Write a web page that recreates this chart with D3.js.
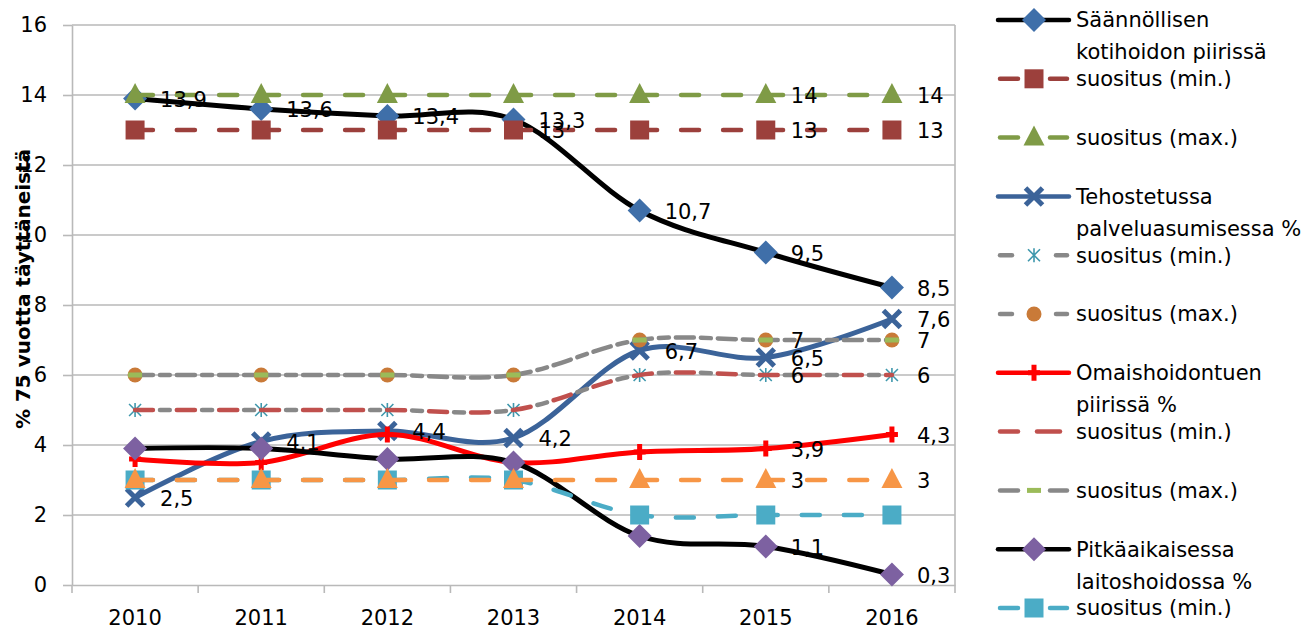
<!DOCTYPE html>
<html>
<head>
<meta charset="utf-8">
<script src="https://cdn.jsdelivr.net/npm/d3@7"></script>
<style>
  body { margin: 0; background: #fff; }
  svg { display: block; font-family: "DejaVu Sans", sans-serif; }
</style>
</head>
<body>
<svg id="chart" width="1314" height="631"></svg>
<script>
// data
const years = ["2010", "2011", "2012", "2013", "2014", "2015", "2016"];
const kotihoito      = [13.9, 13.6, 13.4, 13.3, 10.7, 9.5, 8.5];
const kotihoitoMin   = [13, 13, 13, 13, 13, 13, 13];
const kotihoitoMax   = [14, 14, 14, 14, 14, 14, 14];
const tehostettu     = [2.5, 4.1, 4.4, 4.2, 6.7, 6.5, 7.6];
const tehostettuMin  = [5, 5, 5, 5, 6, 6, 6];
const tehostettuMax  = [6, 6, 6, 6, 7, 7, 7];
const omaishoito     = [3.6, 3.5, 4.3, 3.5, 3.8, 3.9, 4.3];
const omaishoitoMin  = [5, 5, 5, 5, 6, 6, 6];
const omaishoitoMax  = [6, 6, 6, 6, 7, 7, 7];
const laitoshoito    = [3.9, 3.9, 3.6, 3.5, 1.4, 1.1, 0.3];
const laitoshoitoMin = [3, 3, 3, 3, 2, 2, 2];
const laitoshoitoMax = [3, 3, 3, 3, 3, 3, 3];
const yTicks = [0, 2, 4, 6, 8, 10, 12, 14, 16];
const yTitle = "% 75 vuotta täyttäneistä";

const series = [
  {lines: ["Säännöllisen", "kotihoidon piirissä"], values: kotihoito, color: "#000", dash: null, marker: "diamond", mcolor: "#3f6fa9", labels: [0,1,2,3,4,5,6]},
  {lines: ["suositus (min.)"], values: kotihoitoMin, color: "#9c403c", dash: "long", marker: "square", mcolor: "#9c403c", labels: [3,5,6]},
  {lines: ["suositus (max.)"], values: kotihoitoMax, color: "#7f9b46", dash: "long", marker: "triangle", mcolor: "#7f9b46", labels: [5,6]},
  {lines: ["Tehostetussa", "palveluasumisessa %"], values: tehostettu, color: "#3b6399", dash: null, marker: "x", mcolor: "#3b6399", labels: [0,1,2,3,4,5,6]},
  {lines: ["suositus (min.)"], values: tehostettuMin, color: "#888", dash: "short", marker: "asterisk", mcolor: "#3f98ad", labels: [5,6]},
  {lines: ["suositus (max.)"], values: tehostettuMax, color: "#888", dash: "short", marker: "circle", mcolor: "#c97a38", labels: [5,6]},
  {lines: ["Omaishoidontuen", "piirissä %"], values: omaishoito, color: "#ff0000", dash: null, marker: "plus", mcolor: "#ff0000", labels: [5,6]},
  {lines: ["suositus (min.)"], values: omaishoitoMin, color: "#c0504d", dash: "long", marker: null, mcolor: null, labels: []},
  {lines: ["suositus (max.)"], values: omaishoitoMax, color: "#888", dash: "long", marker: "dash", mcolor: "#9bbb59", labels: []},
  {lines: ["Pitkäaikaisessa", "laitoshoidossa %"], values: laitoshoito, color: "#000", dash: null, marker: "diamond", mcolor: "#7d61a1", labels: [5,6]},
  {lines: ["suositus (min.)"], values: laitoshoitoMin, color: "#4bacc6", dash: "long", marker: "square", mcolor: "#4bacc6", labels: []},
  {lines: ["suositus (max.)"], values: laitoshoitoMax, color: "#f79646", dash: "long", marker: "triangle", mcolor: "#f79646", labels: [5,6]}
];

const svg = d3.select("#chart");
const fontSize = 21;

const x = d3.scaleBand().domain(years).range([72, 955]);
const y = d3.scaleLinear().domain([0, 16]).range([585, 25]);
const cx = d => x(d) + x.bandwidth() / 2;

// gridlines
svg.append("g").selectAll("line")
  .data(yTicks.filter(d => d > 0))
  .join("line")
    .attr("x1", 72).attr("x2", 955)
    .attr("y1", d => y(d)).attr("y2", d => y(d))
    .attr("stroke", "#b9b9b9").attr("stroke-width", 1.6);

// plot border on the right
svg.append("line")
  .attr("x1", 955).attr("x2", 955).attr("y1", y(16)).attr("y2", y(0))
  .attr("stroke", "#b9b9b9").attr("stroke-width", 1.6);

// y axis
const yAxis = svg.append("g")
  .attr("transform", "translate(72,0)")
  .call(d3.axisLeft(y).tickValues(yTicks).tickSize(9).tickSizeOuter(0).tickPadding(16));
yAxis.select(".domain").attr("stroke", "#b9b9b9").attr("stroke-width", 1.6);
yAxis.selectAll(".tick line").attr("stroke", "#b9b9b9").attr("stroke-width", 1.6);
yAxis.selectAll("text").attr("font-size", fontSize).attr("font-family", "DejaVu Sans").attr("fill", "#000");

// x axis: labels at band centres, ticks at band edges
const xAxis = svg.append("g")
  .attr("transform", "translate(0,585)")
  .call(d3.axisBottom(x).tickSize(0).tickPadding(25));
xAxis.select(".domain").attr("stroke", "#b9b9b9").attr("stroke-width", 1.6);
xAxis.selectAll("text").attr("font-size", fontSize).attr("font-family", "DejaVu Sans").attr("fill", "#000");
xAxis.selectAll(".edge")
  .data(d3.range(years.length + 1))
  .join("line")
    .attr("class", "edge")
    .attr("x1", i => x.range()[0] + i * x.step())
    .attr("x2", i => x.range()[0] + i * x.step())
    .attr("y1", 0).attr("y2", 8)
    .attr("stroke", "#b9b9b9").attr("stroke-width", 1.6);

// y axis title
svg.append("text")
  .attr("transform", "translate(23,289) rotate(-90)")
  .attr("text-anchor", "middle")
  .attr("dy", "0.35em")
  .attr("font-size", 20)
  .attr("font-weight", "bold")
  .text(yTitle);

// markers
function markerPath(type) {
  const p = d3.path();
  if (type === "diamond") { p.moveTo(0,-12); p.lineTo(12,0); p.lineTo(0,12); p.lineTo(-12,0); p.closePath(); }
  else if (type === "square") { p.rect(-9.5,-9.5,19,19); }
  else if (type === "triangle") { p.moveTo(0,-12); p.lineTo(10.5,8); p.lineTo(-10.5,8); p.closePath(); }
  else if (type === "x") { p.moveTo(-8.5,-8.5); p.lineTo(8.5,8.5); p.moveTo(-8.5,8.5); p.lineTo(8.5,-8.5); }
  else if (type === "plus") { p.moveTo(0,-8); p.lineTo(0,8); p.moveTo(-6,0); p.lineTo(6,0); }
  else if (type === "asterisk") { p.moveTo(0,-7); p.lineTo(0,7); p.moveTo(-6,-6); p.lineTo(6,6); p.moveTo(-6,6); p.lineTo(6,-6); }
  else if (type === "circle") { p.arc(0,0,7.5,0,2*Math.PI); }
  else if (type === "dash") { p.rect(-7,-2.5,14,5); }
  return p.toString();
}
function styleMarker(sel, s) {
  const stroked = s.marker === "x" || s.marker === "plus" || s.marker === "asterisk";
  sel.attr("d", markerPath(s.marker))
    .attr("fill", stroked ? "none" : s.mcolor)
    .attr("stroke", s.mcolor)
    .attr("stroke-width", s.marker === "asterisk" ? 1.6 : stroked ? 5 : 0);
}
function styleLine(sel, s) {
  sel.attr("fill", "none")
    .attr("stroke", s.color)
    .attr("stroke-width", s.dash ? 4.5 : 5)
    .attr("stroke-linecap", s.dash ? "round" : "butt")
    .attr("stroke-dasharray", s.dash === "long" ? "18,24" : s.dash === "short" ? "10,32" : null)
    .attr("stroke-dashoffset", s.dash === "short" ? 17 : 0);
}

const line = d3.line()
  .x((d, i) => cx(years[i]))
  .y(d => y(d))
  .curve(d3.curveCardinal.tension(0));

series.forEach(s => {
  const g = svg.append("g");
  g.append("path").datum(s.values).attr("d", line).call(styleLine, s);
  if (s.marker) {
    g.selectAll(".m")
      .data(s.values)
      .join("path")
        .attr("class", "m")
        .attr("transform", (d, i) => `translate(${cx(years[i])},${y(d)})`)
        .call(styleMarker, s);
  }
});

// data labels
const fmt = v => String(v).replace(".", ",");
series.forEach(s => {
  svg.append("g").selectAll("text")
    .data(s.labels)
    .join("text")
      .attr("x", i => cx(years[i]) + 25)
      .attr("y", i => y(s.values[i]) + 1)
      .attr("dy", "0.35em")
      .attr("font-size", fontSize)
      .attr("fill", "#000")
      .text(i => fmt(s.values[i]));
});

// legend (the last entry falls below the picture, as in the original)
const legend = svg.append("g");
series.forEach((s, k) => {
  const ly = 20 + k * 58.8;
  if (ly > 620) return;
  const g = legend.append("g").attr("transform", `translate(0,${ly})`);
  let segs;
  if (!s.dash) segs = [[998, 1069]];
  else if (s.dash === "short") segs = [[1000, 1012], [1056, 1067]];
  else if (!s.marker) segs = [[1000, 1018], [1037, 1060]];
  else segs = [[1000, 1018], [1050, 1067]];
  segs.forEach(([a, b]) => {
    g.append("line")
      .attr("x1", a).attr("x2", b).attr("y1", 0).attr("y2", 0)
      .attr("stroke", s.color).attr("stroke-width", 4.5)
      .attr("stroke-linecap", "round");
  });
  if (s.marker) {
    g.append("path").attr("transform", "translate(1034,0)").call(styleMarker, s);
  }
  s.lines.forEach((t, j) => {
    g.append("text")
      .attr("x", 1076).attr("y", j * 32)
      .attr("dy", "0.35em")
      .attr("font-size", fontSize)
      .attr("fill", "#000")
      .text(t);
  });
});
</script>
</body>
</html>
